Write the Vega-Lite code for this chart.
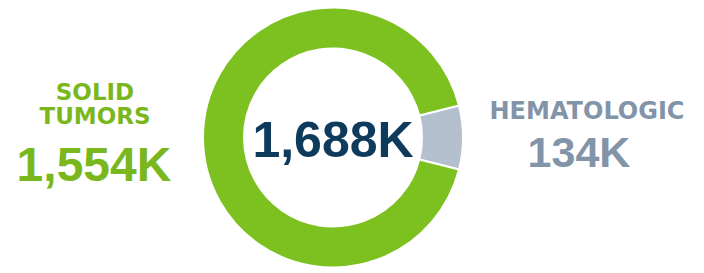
{
  "$schema": "https://vega.github.io/schema/vega-lite/v6.json",
  "autosize": {"type": "none"},
  "width": 666,
  "height": 271,
  "padding": {"left": 0, "top": 2, "right": 38, "bottom": 0},
  "background": "white",
  "view": {"stroke": null},
  "data": {
    "values": [
      {"category": "HEMATOLOGIC", "name": "HEMATOLOGIC", "value": 134, "label": "134K"},
      {"category": "SOLID TUMORS", "name": "SOLID\nTUMORS", "value": 1554, "label": "1,554K"}
    ]
  },
  "layer": [
    {
      "mark": {"type": "arc", "outerRadius": 130, "innerRadius": 89, "stroke": "white", "strokeWidth": 2},
      "encoding": {
        "theta": {"field": "value", "type": "quantitative", "stack": true, "scale": {"range": [1.3214, 7.6046]}},
        "order": {"field": "category", "sort": "ascending"},
        "color": {"field": "category", "type": "nominal", "legend": null,
          "scale": {"domain": ["HEMATOLOGIC", "SOLID TUMORS"], "range": ["#b4c0ce", "#7cc11f"]}}
      }
    },
    {
      "mark": {"type": "text", "radius": 238, "dy": -44, "font": "DejaVu Sans", "fontWeight": "bold", "fontSize": 23, "lineHeight": 24, "lineBreak": "\n", "align": "center", "baseline": "middle", "color": "#7ab71d"},
      "encoding": {
        "theta": {"field": "value", "type": "quantitative", "stack": true},
        "order": {"field": "category", "sort": "ascending"},
        "text": {"condition": {"test": "datum.category == 'SOLID TUMORS'", "field": "name"}, "value": ""}
      }
    },
    {
      "mark": {"type": "text", "radius": 239, "dy": 30, "font": "Liberation Sans", "fontWeight": "bold", "fontSize": 48, "align": "center", "baseline": "middle", "color": "#7ab71d"},
      "encoding": {
        "theta": {"field": "value", "type": "quantitative", "stack": true},
        "order": {"field": "category", "sort": "ascending"},
        "text": {"condition": {"test": "datum.category == 'SOLID TUMORS'", "field": "label"}, "value": ""}
      }
    },
    {
      "mark": {"type": "text", "radius": 254, "dy": -25, "font": "DejaVu Sans", "fontWeight": "bold", "fontSize": 24, "align": "center", "baseline": "middle", "color": "#8294a8"},
      "encoding": {
        "theta": {"field": "value", "type": "quantitative", "stack": true},
        "order": {"field": "category", "sort": "ascending"},
        "text": {"condition": {"test": "datum.category == 'HEMATOLOGIC'", "field": "name"}, "value": ""}
      }
    },
    {
      "mark": {"type": "text", "radius": 246, "dy": 17, "font": "Liberation Sans", "fontWeight": "bold", "fontSize": 43, "align": "center", "baseline": "middle", "color": "#8294a8"},
      "encoding": {
        "theta": {"field": "value", "type": "quantitative", "stack": true},
        "order": {"field": "category", "sort": "ascending"},
        "text": {"condition": {"test": "datum.category == 'HEMATOLOGIC'", "field": "label"}, "value": ""}
      }
    },
    {
      "transform": [
        {"aggregate": [{"op": "sum", "field": "value", "as": "total"}]},
        {"calculate": "format(datum.total, ',') + 'K'", "as": "totalLabel"}
      ],
      "mark": {"type": "text", "dy": 4, "font": "Liberation Sans", "fontWeight": "bold", "fontSize": 50, "align": "center", "baseline": "middle", "color": "#0e3a5c"},
      "encoding": {
        "text": {"field": "totalLabel", "type": "nominal"}
      }
    }
  ]
}
